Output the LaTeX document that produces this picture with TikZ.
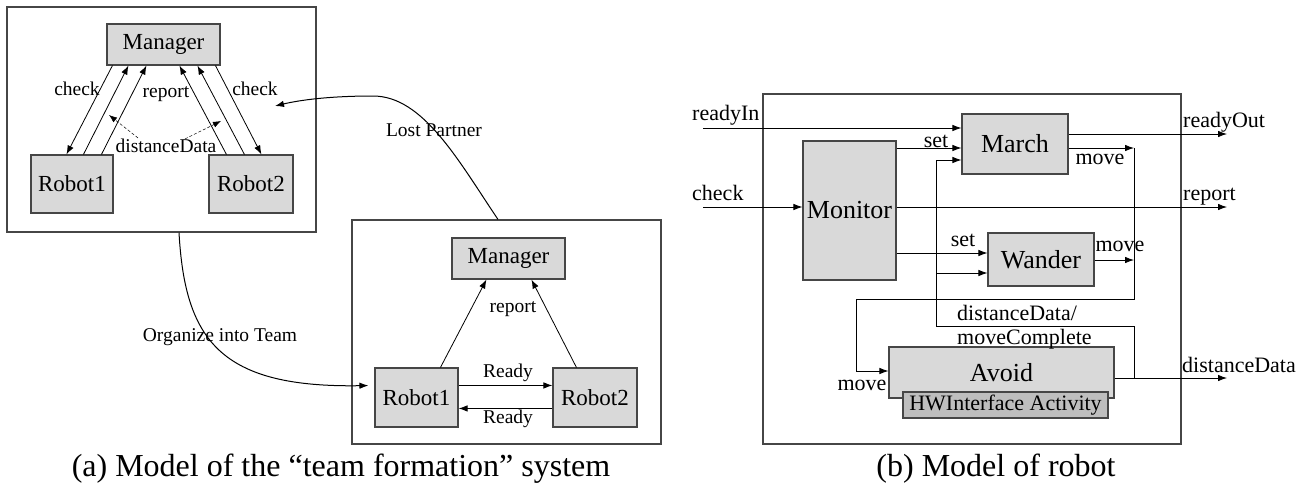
\documentclass[tikz,border=0pt]{standalone}
\usepackage{fontspec}
\setmainfont{Liberation Serif}
\usetikzlibrary{arrows.meta}
\definecolor{boxgray}{RGB}{217,217,217}
\definecolor{hwgray}{RGB}{190,190,190}
\definecolor{edgegray}{RGB}{70,70,70}

\begin{document}
\begin{tikzpicture}[x=1pt,y=-1pt,
  frame/.style={draw=edgegray, line width=1.1pt, inner sep=0pt},
  block/.style={draw=edgegray, fill=boxgray, line width=1.1pt, inner sep=0pt,
                font=\fontsize{23}{26}\selectfont},
  bigblock/.style={block, font=\fontsize{26}{30}\selectfont},
  lbl/.style={inner sep=0pt, font=\fontsize{19.5}{22}\selectfont},
  rlbl/.style={inner sep=0pt, font=\fontsize{22}{25}\selectfont},
  conn/.style={line width=0.8pt},
  arr/.style={conn, -{Latex[length=9pt,width=6.5pt]}},
  dasharr/.style={line width=0.5pt, dash pattern=on 3pt off 2pt,
                  -{Latex[length=8pt,width=6pt]}},
]
\useasboundingbox (0,0) rectangle (1305,493);

% ---------- (a) team before formation ----------
\node[frame, minimum width=309pt, minimum height=225pt] (teamA) at (161.5,119.5) {};
\node[block, minimum width=113pt, minimum height=41pt] (mgrA) at (163.5,44.5) {Manager};
\node[block, minimum width=82pt, minimum height=58pt] (robAa) at (72,184) {Robot1};
\node[block, minimum width=84pt, minimum height=58pt] (robAb) at (251,184) {Robot2};

\draw[arr] ([xshift=6pt]mgrA.south west) -- ([xshift=36pt]robAa.north west);
\draw[arr] ([xshift=53pt]robAa.north west) -- ([xshift=22pt]mgrA.south west);
\draw[arr] ([xshift=71pt]robAa.north west) -- ([xshift=40pt]mgrA.south west);
\draw[arr] ([xshift=18pt]robAb.north west) -- ([xshift=73pt]mgrA.south west);
\draw[arr] ([xshift=36pt]robAb.north west) -- ([xshift=91pt]mgrA.south west);
\draw[arr] ([xshift=109pt]mgrA.south west) -- ([xshift=53pt]robAb.north west);

\node[lbl] (chkA1) at (77,89) {check};
\node[lbl] (repA) at (166,94) {report};
\node[lbl] (chkA2) at (255,89) {check};
\node[lbl] (ddA) at (166,146) {distanceData};
\coordinate (ddTipL) at (109,115);
\coordinate (ddTipR) at (221,121);
\draw[dasharr] ([xshift=-28pt,yshift=1pt]ddA.north) -- (ddTipL);
\draw[dasharr] ([xshift=19pt,yshift=0pt]ddA.north) -- (ddTipR);

% ---------- (a) team after formation ----------
\node[frame, minimum width=309pt, minimum height=224pt] (teamB) at (506.5,332) {};
\node[block, minimum width=113pt, minimum height=41pt] (mgrB) at (508.5,258.5) {Manager};
\node[block, minimum width=83pt, minimum height=59pt] (robBa) at (416.5,397.5) {Robot1};
\node[block, minimum width=84pt, minimum height=59pt] (robBb) at (595,397.5) {Robot2};

\draw[arr] ([xshift=66pt]robBa.north west) -- ([xshift=35pt]mgrB.south west);
\draw[arr] ([xshift=24pt]robBb.north west) -- ([xshift=80pt]mgrB.south west);
\draw[arr] ([yshift=-18pt]robBa.north east) -- ([yshift=-18pt]robBb.north west);
\draw[arr] ([yshift=-41pt]robBb.north west) -- ([yshift=-41pt]robBa.north east);

\node[lbl] (repB) at (513,309) {report};
\node[lbl] (rdyB1) at (508,373) {Ready};
\node[lbl] (rdyB2) at (508,419) {Ready};

% transitions between the two configurations
\draw[arr, line width=1pt, shorten >=6pt] ([xshift=17.5pt]teamA.south)
  .. controls (185,340) and (220,388) .. ([yshift=-18pt]robBa.north west);
\node[lbl] (orgLbl) at (220,337) {Organize into Team};

\coordinate (lpEnd) at (275,106);
\draw[arr, line width=1pt] ([xshift=-8.5pt]teamB.north)
  .. controls (458,160) and (423,96) .. (373,96)
  .. controls (330,96) and (300,100) .. (lpEnd);
\node[lbl] (lpLbl) at (434,130) {Lost Partner};

% ---------- (b) robot model ----------
\node[frame, minimum width=418pt, minimum height=350pt] (robotM) at (972,269) {};
\node[bigblock, minimum width=106pt, minimum height=60pt] (march) at (1015,144) {March};
\node[bigblock, minimum width=93pt, minimum height=139pt] (monitor) at (849.5,210.5) {Monitor};
\node[bigblock, minimum width=106pt, minimum height=53pt] (wander) at (1041,259.5) {Wander};
\node[bigblock, minimum width=225pt, minimum height=51pt] (avoid) at (1001.5,372.5) {Avoid};
\node[block, fill=hwgray, minimum width=205pt, minimum height=26pt,
      font=\fontsize{22}{25}\selectfont] (hwif) at (1005.5,405) {HWInterface Activity};

\coordinate (rin) at (703,128);
\coordinate (cin) at (703,207);
\coordinate (rout) at (1227,134);
\coordinate (repo) at (1227,207);
\coordinate (ddo) at (1227,378);
\coordinate (mvA) at (1134,148);
\coordinate (mvB) at (1134,260);
\coordinate (mvC) at (1134,299);
\coordinate (mvD) at (856,371);
\coordinate (fbA) at (1134,378);
\coordinate (fbB) at (936,326);
\coordinate (fbM) at (936,160);
\coordinate (fbW) at (936,273);
\coordinate (setM) at (896,148);
\coordinate (setW) at (896,253);

\draw[arr] (rin) -- (rin -| march.west);
\draw[arr] (setM -| monitor.east) -- (setM -| march.west);
\draw[arr] (fbM) -- (fbM -| march.west);
\draw[arr] (cin) -- (cin -| monitor.west);
\draw[arr] (repo -| monitor.east) -- (repo);
\draw[arr] (setW -| monitor.east) -- (setW -| wander.west);
\draw[arr] (fbW) -- (fbW -| wander.west);
\draw[arr] (rout -| march.east) -- (rout);
\draw[arr] (mvA -| march.east) -- (mvA);
\draw[arr] (mvB -| wander.east) -- (mvB);
\draw[arr] (mvA) -- (mvC) -| (mvD) -- (mvD -| avoid.west);
\draw[conn] (fbA -| avoid.east) -- (fbA) |- (fbB) -- (fbM);
\draw[arr] (fbA) -- (ddo);

\node[rlbl, anchor=base west] (rinLbl) at (692,120) {readyIn};
\node[rlbl, anchor=base west] (cinLbl) at (692,200) {check};
\node[rlbl] (setMLbl) at (936,141) {set};
\node[rlbl] (setWLbl) at (963,240) {set};
\node[rlbl, anchor=base west] (routLbl) at (1183,127) {readyOut};
\node[rlbl, anchor=base west] (repoLbl) at (1183,200) {report};
\node[rlbl] (mvALbl) at (1100,159) {move};
\node[rlbl] (mvBLbl) at (1120,246) {move};
\node[rlbl, anchor=west] (fbLbl1) at (957,313) {distanceData/};
\node[rlbl, anchor=west] (fbLbl2) at (957,339) {moveComplete};
\node[rlbl] (mvDLbl) at (862,385) {move};
\node[rlbl, anchor=base west] (ddoLbl) at (1182,372) {distanceData};

% ---------- captions ----------
\node[inner sep=0pt, font=\fontsize{32}{36}\selectfont] (capA) at (341,469)
  {(a) Model of the “team formation” system};
\node[inner sep=0pt, font=\fontsize{32}{36}\selectfont] (capB) at (996,469)
  {(b) Model of robot};
\end{tikzpicture}
\end{document}
